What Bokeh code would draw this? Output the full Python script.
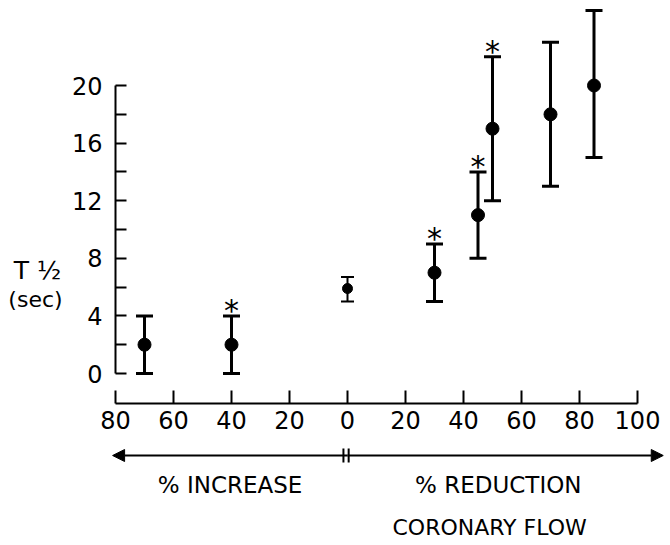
from bokeh.plotting import figure
from bokeh.layouts import row, column
from bokeh.models import FixedTicker, Arrow, NormalHead, Range1d
from bokeh.core.properties import value
from bokeh.embed import file_html
from bokeh.resources import INLINE

# ---- data ----
flow = [-70, -40, 0, 30, 45, 50, 70, 85]          # negative = % increase, positive = % reduction
t_half = [2, 2, 5.9, 7, 11, 17, 18, 20]
err_low = [0, 0, 5, 5, 8, 12, 13, 15]
err_high = [4, 4, 6.7, 9, 14, 22, 23, 25.2]
significant = [False, True, False, True, True, True, False, False]

x_ticks = [-80, -60, -40, -20, 0, 20, 40, 60, 80, 100]
x_tick_labels = ["80", "60", "40", "20", "0", "20", "40", "60", "80", "100"]
y_ticks = [0, 2, 4, 6, 8, 10, 12, 14, 16, 18, 20]
y_tick_labels = ["0", "", "4", "", "8", "", "12", "", "16", "", "20"]

FONT = "DejaVu Sans"

# ---- geometry ----
W = 670
LABEL_W = 64              # width of the y-label strip
FRAME_LEFT = 115          # pixel where x = -80 sits
XPX = 2.9                 # pixels per x unit
YPX = 14.4                # pixels per y unit
ZERO_Y = 373              # pixel row of y = 0
AXIS_Y = 403              # pixel row of x axis
MAIN_BOTTOM_BORDER = 40
MAIN_H = AXIS_Y + MAIN_BOTTOM_BORDER
BOTTOM_H = 545 - MAIN_H

x_lo = x_ticks[0]
x_hi = x_lo + (W - FRAME_LEFT) / XPX
y_lo = -(AXIS_Y - ZERO_Y) / YPX
y_hi = ZERO_Y / YPX


def clean(fig):
    fig.outline_line_color = None
    fig.grid.visible = False
    fig.background_fill_color = "white"
    fig.border_fill_color = "white"


# ---- main plot ----
p = figure(width=W - LABEL_W, height=MAIN_H,
           x_range=Range1d(x_lo, x_hi), y_range=Range1d(y_lo, y_hi),
           output_backend="svg", toolbar_location=None,
           min_border_left=FRAME_LEFT - LABEL_W, min_border_right=0,
           min_border_top=0, min_border_bottom=MAIN_BOTTOM_BORDER)
clean(p)

ya = p.yaxis[0]
ya.bounds = (y_ticks[0], y_ticks[-1])
ya.ticker = FixedTicker(ticks=y_ticks)
ya.major_label_overrides = {t: l for t, l in zip(y_ticks, y_tick_labels)}
ya.major_tick_in = 11
ya.major_tick_out = 0
ya.minor_tick_line_color = None
ya.axis_line_width = 2
ya.major_tick_line_width = 2
ya.axis_line_color = "black"
ya.major_tick_line_color = "black"
ya.major_label_text_font = FONT
ya.major_label_text_font_size = "24px"
ya.major_label_text_color = "black"
ya.major_label_standoff = 13

xa = p.xaxis[0]
xa.bounds = (x_ticks[0], x_ticks[-1])
xa.ticker = FixedTicker(ticks=x_ticks)
xa.major_label_overrides = {t: l for t, l in zip(x_ticks, x_tick_labels)}
xa.major_tick_in = 13
xa.major_tick_out = 0
xa.minor_tick_line_color = None
xa.axis_line_width = 2
xa.major_tick_line_width = 2
xa.axis_line_color = "black"
xa.major_tick_line_color = "black"
xa.major_label_text_font = FONT
xa.major_label_text_font_size = "24px"
xa.major_label_text_color = "black"
xa.major_label_standoff = 7

idx_main = [i for i, f in enumerate(flow) if f != 0]
idx_ctrl = [i for i, f in enumerate(flow) if f == 0]


def pick(arr, idx):
    return [arr[i] for i in idx]


for idx, lw, cap, msize in ((idx_main, 3, 17, 13), (idx_ctrl, 2, 13, 10)):
    xs = pick(flow, idx)
    p.segment(x0=xs, y0=pick(err_low, idx), x1=xs, y1=pick(err_high, idx),
              line_color="black", line_width=lw)
    p.scatter(x=xs, y=pick(err_low, idx), marker="dash", size=cap,
              line_color="black", line_width=lw)
    p.scatter(x=xs, y=pick(err_high, idx), marker="dash", size=cap,
              line_color="black", line_width=lw)
    p.scatter(x=xs, y=pick(t_half, idx), marker="circle", size=msize,
              fill_color="black", line_color="black")

sig_idx = [i for i, s in enumerate(significant) if s]
p.text(x=pick(flow, sig_idx), y=pick(err_high, sig_idx), text=["*"] * len(sig_idx),
       text_align="center", text_baseline="alphabetic",
       text_font=value(FONT), text_font_size="30px",
       text_color="black", y_offset=-5)

# ---- y label strip ----
lab = figure(width=LABEL_W, height=MAIN_H,
             x_range=Range1d(0, LABEL_W), y_range=p.y_range,
             output_backend="svg", toolbar_location=None,
             min_border_left=0, min_border_right=0,
             min_border_top=0, min_border_bottom=MAIN_BOTTOM_BORDER)
clean(lab)
lab.axis.visible = False
lab.text(x=[37], y=[(ZERO_Y - 270) / YPX], text=["T ½"],
         text_align="center", text_baseline="middle",
         text_font=value(FONT), text_font_size="25px", text_color="black")
lab.text(x=[35], y=[(ZERO_Y - 299) / YPX], text=["(sec)"],
         text_align="center", text_baseline="middle",
         text_font=value(FONT), text_font_size="22px", text_color="black")

# ---- bottom strip: arrows and captions ----
bx_lo = x_lo - FRAME_LEFT / XPX
bot = figure(width=W, height=BOTTOM_H,
             x_range=Range1d(bx_lo, x_hi), y_range=Range1d(0, BOTTOM_H),
             output_backend="svg", toolbar_location=None,
             min_border_left=0, min_border_right=0,
             min_border_top=0, min_border_bottom=0)
clean(bot)
bot.axis.visible = False

arrow_y = 545 - 455
head = dict(size=12, fill_color="black", line_color="black")
bot.add_layout(Arrow(end=NormalHead(**head), x_start=0, y_start=arrow_y,
                     x_end=x_ticks[0] - 1, y_end=arrow_y,
                     line_width=2, line_color="black"))
bot.add_layout(Arrow(end=NormalHead(**head), x_start=0, y_start=arrow_y,
                     x_end=x_hi - 2.5, y_end=arrow_y,
                     line_width=2, line_color="black"))
bot.segment(x0=[-1.4, 0.4], y0=[arrow_y + 7] * 2, x1=[-1.4, 0.4], y1=[arrow_y - 7] * 2,
            line_color="black", line_width=2)

bot.text(x=[-40.5, 52], y=[545 - 484] * 2, text=["% INCREASE", "% REDUCTION"],
         text_align="center", text_baseline="middle",
         text_font=value(FONT), text_font_size="23px", text_color="black")
bot.text(x=[49], y=[545 - 527], text=["CORONARY FLOW"],
         text_align="center", text_baseline="middle",
         text_font=value(FONT), text_font_size="22px", text_color="black")

layout = column(row(lab, p), bot)
open("out.html", "w").write(file_html(layout, INLINE))
